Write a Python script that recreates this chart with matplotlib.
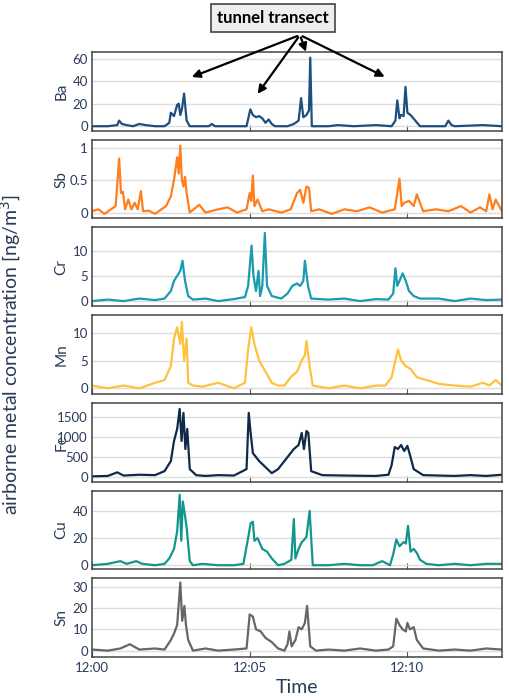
import matplotlib.pyplot as plt

plt.rcParams['font.family'] = ['Lato', 'DejaVu Sans']

# time in minutes after 12:00
ba_t = [0, 0.5, 0.8, 0.86, 0.95, 1.1, 1.3, 1.5, 1.7, 2.0, 2.3, 2.45, 2.5, 2.6, 2.7, 2.75, 2.8, 2.85, 2.92, 3.0, 3.1,
        3.7, 3.8, 3.9, 4.9, 5.02, 5.1, 5.2, 5.3, 5.4, 5.5, 5.6, 5.7, 5.8, 6.2, 6.4, 6.55, 6.63, 6.7, 6.8, 6.88, 6.92,
        6.97, 7.5, 7.8, 8.3, 9.0, 9.5, 9.62, 9.68, 9.75, 9.8, 9.88, 9.94, 10.0, 10.1, 10.25, 10.4, 11.2, 11.3, 11.4,
        11.5, 12.4, 13.0]
ba_v = [0, 0, 1, 5, 2, 1, 0, 2, 1, 0, 0, 3, 12, 9, 19, 20, 10, 15, 29, 5, 0,
        0, 2, 0, 0, 15, 10, 8, 9, 7, 3, 6, 2, 0, 0, 2, 5, 25, 8, 10, 14, 61,
        0, 0, 1, 0, 1, 0, 5, 23, 7, 10, 9, 35, 12, 10, 5, 0, 0, 5, 1, 0, 1, 0]

sb_t = [0, 0.2, 0.4, 0.6, 0.75, 0.86, 0.92, 0.98, 1.05, 1.15, 1.25, 1.35, 1.45, 1.55, 1.62, 1.8, 2.0, 2.2, 2.35,
        2.5, 2.6, 2.7, 2.75, 2.8, 2.85, 2.9, 2.95, 3.0, 3.1, 3.4, 3.6, 4.0, 4.3, 4.6, 4.9, 5.0, 5.05, 5.1, 5.15,
        5.25, 5.4, 5.6, 6.0, 6.3, 6.5, 6.6, 6.7, 6.8, 6.88, 6.95, 7.2, 7.6, 8.0, 8.4, 8.8, 9.2, 9.6, 9.75, 9.82,
        9.9, 10.05, 10.2, 10.3, 10.5, 10.9, 11.3, 11.7, 12.0, 12.3, 12.5, 12.6, 12.7, 12.8, 13.0]
sb_v = [0.02, 0.05, -0.02, 0.05, 0.1, 0.83, 0.3, 0.32, 0.05, 0.2, 0.05, 0.15, 0.05, 0.33, 0.02, 0.03, -0.02, 0.05, 0.1,
        0.25, 0.5, 0.85, 0.6, 1.03, 0.5, 0.4, 0.55, 0.3, 0.0, 0.12, 0.0, 0.05, 0.08, 0.0, 0.05, 0.3, 0.18, 0.57, 0.1,
        0.2, 0.02, 0.05, 0.0, 0.05, 0.3, 0.35, 0.15, 0.4, 0.38, 0.02, 0.05, -0.02, 0.05, 0.02, 0.08, 0.0, 0.05, 0.52, 0.1,
        0.15, 0.18, 0.1, 0.28, 0.02, 0.05, 0.02, 0.1, 0.0, 0.08, 0.02, 0.28, 0.05, 0.2, 0.02]

cr_t = [0, 0.5, 1.0, 1.5, 2.0, 2.3, 2.5, 2.6, 2.7, 2.8, 2.87, 2.95, 3.05, 3.2, 3.6, 4.0, 4.5, 4.85, 4.95, 5.06,
        5.12, 5.2, 5.28, 5.33, 5.4, 5.48, 5.55, 5.7, 6.0, 6.2, 6.35, 6.5, 6.6, 6.7, 6.75, 6.85, 6.95, 7.5, 8.0,
        8.5, 9.0, 9.4, 9.55, 9.62, 9.68, 9.75, 9.85, 9.95, 10.05, 10.2, 10.4, 11.0, 11.5, 12.0, 12.5, 13.0]
cr_v = [0, 0.3, 0, 0.5, 0.2, 0.5, 2, 4, 5, 6, 8, 4, 1, 0.3, 0.5, 0, 0.4, 0.8, 3, 11,
        5, 2, 6, 1, 3, 13.5, 3, 1, 0.5, 1.5, 3, 3.5, 3, 4, 8, 3, 0.5, 0.3, 0.5,
        0, 0.4, 0.3, 1.5, 6.5, 3, 4, 5.5, 4, 2, 1, 0.5, 0.5, 0, 0.5, 0.2, 0.3]

mn_t = [0, 0.5, 1.0, 1.5, 2.0, 2.3, 2.5, 2.6, 2.7, 2.8, 2.85, 2.92, 3.0, 3.05, 3.2, 3.5, 4.0, 4.5, 4.85, 4.95,
        5.05, 5.15, 5.3, 5.5, 5.7, 5.9, 6.1, 6.3, 6.5, 6.65, 6.75, 6.8, 6.9, 7.0, 7.5, 8.0, 8.5, 9.0, 9.3, 9.5,
        9.62, 9.7, 9.8, 9.95, 10.1, 10.3, 10.6, 11.0, 11.5, 12.0, 12.4, 12.6, 12.8, 13.0]
mn_v = [0.5, 0, 0.5, 0, 1, 1.5, 4, 9, 11, 8, 12, 5, 9, 1, 0.5, 0.3, 1, 0, 1, 7,
        11, 8, 5, 3, 1, 0.5, 0.5, 2, 3, 5, 6, 8.5, 4, 0.5, 0, 0.5, 0, 0.5, 0.5, 2,
        5, 7, 5, 4, 3.5, 2, 1.5, 0.8, 0.5, 0.3, 1, 0.5, 1.5, 0.5]

fe_t = [0, 0.5, 0.8, 1.0, 1.5, 2.0, 2.3, 2.5, 2.6, 2.7, 2.78, 2.84, 2.9, 2.96, 3.02, 3.1, 3.3, 3.6, 4.0, 4.5,
        4.9, 4.97, 5.03, 5.1, 5.2, 5.3, 5.5, 5.7, 5.9, 6.2, 6.4, 6.55, 6.65, 6.72, 6.8, 6.86, 6.95, 7.3, 8.0, 9.0,
        9.4, 9.5, 9.6, 9.7, 9.8, 9.9, 10.0, 10.1, 10.2, 10.5, 11.0, 11.5, 12.0, 12.5, 13.0]
fe_v = [20, 30, 120, 40, 60, 50, 150, 400, 900, 1200, 1700, 900, 1600, 700, 1200, 200, 50, 30, 50, 40,
        200, 1600, 1100, 600, 500, 400, 250, 100, 200, 500, 700, 800, 1100, 700, 1150, 1100, 150, 50, 40, 30,
        60, 300, 750, 700, 800, 650, 780, 500, 200, 50, 40, 30, 50, 30, 60]

cu_t = [0, 0.5, 0.9, 1.1, 1.4, 1.6, 2.0, 2.3, 2.45, 2.6, 2.7, 2.78, 2.83, 2.88, 2.94, 3.0, 3.1, 3.2, 3.5, 4.0,
        4.5, 4.8, 4.95, 5.03, 5.1, 5.15, 5.25, 5.4, 5.55, 5.7, 5.9, 6.1, 6.25, 6.32, 6.4, 6.45, 6.55, 6.65, 6.7,
        6.8, 6.9, 7.0, 7.5, 8.0, 8.5, 8.9, 9.2, 9.45, 9.55, 9.65, 9.75, 9.88, 9.95, 10.02, 10.1, 10.2, 10.3, 10.4,
        10.6, 11.0, 11.5, 12.0, 12.5, 13.0]
cu_v = [0, 1, 3, 1, 3, 1, 0, 1, 5, 12, 25, 52, 18, 47, 38, 28, 3, 0, 1, 0,
        0, 1, 20, 31, 32, 18, 20, 12, 10, 5, 0, 1, 3, 4, 34, 5, 12, 17, 18,
        21, 40, 0, 0, 1, 0, 0, 3, 0, 8, 19, 14, 17, 16, 29, 10, 12, 9, 4,
        1, 0, 1, 0, 1, 1]

sn_t = [0, 0.5, 0.9, 1.2, 1.5, 2.0, 2.3, 2.5, 2.6, 2.7, 2.8, 2.86, 2.93, 2.98, 3.05, 3.2, 3.6, 4.0, 4.5, 4.9,
        5.0, 5.1, 5.2, 5.35, 5.5, 5.7, 5.9, 6.1, 6.2, 6.26, 6.33, 6.45, 6.55, 6.65, 6.75, 6.82, 6.92, 7.1, 7.5,
        8.0, 8.5, 9.0, 9.4, 9.55, 9.65, 9.75, 9.85, 9.95, 10.0, 10.08, 10.2, 10.3, 10.5, 11.0, 11.5, 12.0, 12.5, 13.0]
sn_v = [0.5, 0, 1, 3, 0.5, 1, 0.5, 5, 8, 12, 32, 14, 21, 12, 5, 0, 1, 0, 0.5, 1,
        17, 16, 10, 9, 6, 4, 1, 0, 3, 9, 2, 5, 11, 10, 13, 21, 2, 0, 0.5,
        0, 1, 0, 0.5, 2, 15, 12, 10, 9, 13, 10, 11, 5, 1, 0, 0.5, 0, 1, 0.5]

elements = ['Ba', 'Sb', 'Cr', 'Mn', 'Fe', 'Cu', 'Sn']
series = [(ba_t, ba_v), (sb_t, sb_v), (cr_t, cr_v), (mn_t, mn_v), (fe_t, fe_v), (cu_t, cu_v), (sn_t, sn_v)]
colors = ['#1b4f7f', '#ff7f1e', '#1a9bb0', '#ffc23e', '#0f2a48', '#13968a', '#666666']
ylims = [(-4, 66), (-0.09, 1.12), (-1, 14.6), (-1, 13.2), (-110, 1850), (-3, 55), (-3, 34)]
yticks = [[0, 20, 40, 60], [0, 0.5, 1], [0, 5, 10], [0, 5, 10], [0, 500, 1000, 1500], [0, 20, 40], [0, 10, 20, 30]]
ytlabels = [None, ['0', '0.5', '1'], None, None, None, None, None]

txt = '#2a3a5a'
fig = plt.figure(figsize=(5.1, 7), dpi=100)
left, right = 92 / 510, 502 / 510
top_px, bottom_px, gap = 52, 657, 9
h = (bottom_px - top_px - 6 * gap) / 7
axes = []
for i, name in enumerate(elements):
    y0 = top_px + i * (h + gap)
    ax = fig.add_axes([left, 1 - (y0 + h) / 700, right - left, h / 700])
    t, v = series[i]
    ax.plot(t, v, color=colors[i], lw=1.6)
    ax.set_xlim(0, 13)
    ax.set_ylim(*ylims[i])
    ax.set_yticks(yticks[i])
    if ytlabels[i]:
        ax.set_yticklabels(ytlabels[i])
    ax.set_xticks([0, 5, 10])
    ax.grid(axis='y', color='#dddddd', lw=1)
    ax.set_axisbelow(True)
    ax.tick_params(axis='y', length=0, labelsize=9.5, colors=txt, pad=3)
    ax.tick_params(axis='x', direction='in', length=4, colors='#555555', labelsize=9.5, labelcolor=txt)
    for s in ax.spines.values():
        s.set_color('#444444')
        s.set_linewidth(1.1)
    ax.set_ylabel(name, fontsize=11, color=txt)
    ax.yaxis.set_label_coords(-0.058, 0.5)
    if i < 6:
        ax.set_xticklabels([])
    else:
        ax.set_xticklabels(['12:00', '12:05', '12:10'])
        ax.set_xlabel('Time', fontsize=14, color=txt, labelpad=4)
    axes.append(ax)

fig.text(0.022, (700 - 355) / 700, 'airborne metal concentration [ng/m$^3$]', rotation=90,
         ha='center', va='center', fontsize=14, color=txt)

# annotation box with arrows into the Ba panel
src = (300 / 510, 1 - 35 / 700)
targets = [(0.237, 0.67), (0.40, 0.44), (0.524, 0.97), (0.72, 0.67)]
for tx, ty in targets:
    axes[0].annotate('', xy=(tx, ty), xycoords='axes fraction', xytext=src, textcoords='figure fraction',
                     arrowprops=dict(arrowstyle='-|>', color='black', lw=1.6, mutation_scale=12))
fig.text(273 / 510, 1 - 18 / 700, 'tunnel transect', ha='center', va='center', fontsize=12, fontweight='bold',
         bbox=dict(boxstyle='square,pad=0.35', facecolor='#eeeeee', edgecolor='#444444', lw=1.2))

fig.savefig('out.png', dpi=100)
